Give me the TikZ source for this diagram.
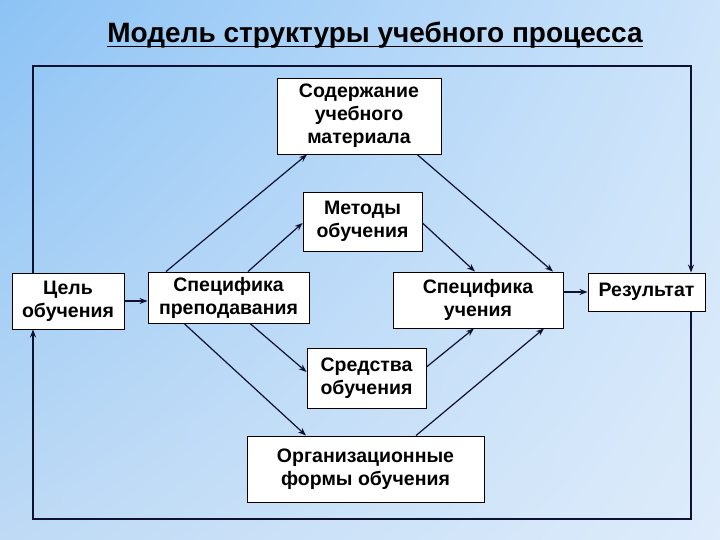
\documentclass[tikz,border=0pt]{standalone}
\usepackage{fontspec}
\setmainfont{Liberation Sans}
\usetikzlibrary{arrows.meta,shadings}
\definecolor{lnc}{RGB}{16,16,48}
\definecolor{bgul}{RGB}{140,195,245}
\definecolor{bgur}{RGB}{205,228,250}
\definecolor{bgll}{RGB}{190,218,245}
\definecolor{bglr}{RGB}{222,236,251}
\begin{document}
\begin{tikzpicture}[x=1pt,y=-1pt,
  box/.style={draw=black,line width=0.9pt,fill=white,inner sep=0pt,align=center,
     font=\fontsize{19.5}{23}\selectfont\bfseries},
  conn/.style={draw=lnc,line width=1.2pt,-{Stealth[length=8pt,width=6pt]}},
  thick conn/.style={draw=lnc,line width=2pt,-{Stealth[length=8pt,width=6pt]}}]
\useasboundingbox (0,0) rectangle (720,540);
\shade[upper left=bgul,upper right=bgur,lower left=bgll,lower right=bglr]
  (0,0) rectangle (720,540);
\node[font=\fontsize{28}{32}\selectfont\bfseries,anchor=base,inner sep=0pt] (title) at (375,43) {Модель структуры учебного процесса};
\draw[line width=1.8pt,black] ([yshift=-3.5pt]title.base west) -- ([yshift=-3.5pt]title.base east);
\coordinate (tl) at (33,66);
\coordinate (tr) at (691,66);
\coordinate (bl) at (33,519);
\coordinate (br) at (691,519);
\node[box,minimum width=112pt,minimum height=56pt] (cel) at (68,301) {Цель\\обучения};
\node[box,minimum width=161pt,minimum height=51pt] (spp) at (228.5,297.5) {Специфика\\преподавания};
\node[box,minimum width=119pt,minimum height=60pt] (sre) at (366.5,378) {Средства\\обучения};
\node[box,minimum width=237pt,minimum height=66pt] (org) at (365.5,469) {Организационные\\формы обучения};
\node[box,minimum width=170pt,minimum height=56pt] (spu) at (478,300) {Специфика\\учения};
\node[box,minimum width=117pt,minimum height=38pt] (res) at (646.5,292) {Результат};
\node[box,minimum width=164pt,minimum height=76pt] (sod) at (359,116) {Содержание\\учебного\\материала};
\node[box,minimum width=119pt,minimum height=59pt] (met) at (362.5,221.5) {Методы\\обучения};
% frame
\draw[conn] (cel.north -| tl) -- (tl) -- (tr) -- (tr |- res.north);
\draw[conn] (res.south -| br) -- (br) -- (bl) -- (bl |- cel.south);
% arrows
\draw[thick conn] (cel.east) -- (cel.east -| spp.west);
\draw[thick conn] (res.west -| spu.east) -- (res.west);
\draw[conn] ([xshift=-62.5pt]spp.north) -- ([xshift=-52pt]sod.south);
\draw[conn] ([xshift=19.5pt]spp.north) -- ([yshift=-1.5pt]met.west);
\draw[conn] ([xshift=58pt]sod.south) -- ([xshift=75pt]spu.north);
\draw[conn] ([yshift=-1.5pt]met.east) -- ([xshift=-3pt]spu.north);
\draw[conn] ([xshift=21.5pt]spp.south) -- ([yshift=6pt]sre.west);
\draw[conn] ([xshift=-44.5pt]spp.south) -- ([xshift=-59.5pt]org.north);
\draw[conn] ([yshift=11pt]sre.east) -- ([xshift=-4pt]spu.south);
\draw[conn] ([xshift=50.5pt]org.north) -- ([xshift=66pt]spu.south);
\end{tikzpicture}
\end{document}
